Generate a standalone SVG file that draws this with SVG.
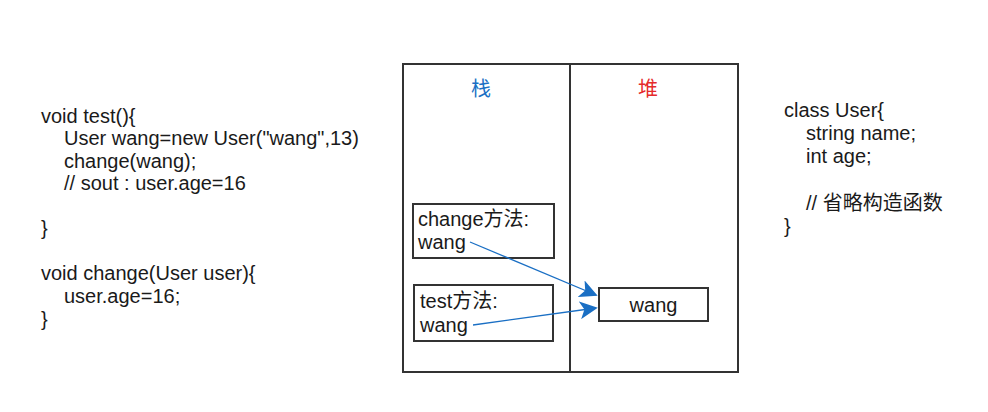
<svg xmlns="http://www.w3.org/2000/svg" width="988" height="412" viewBox="0 0 988 412">
<style>
.t{font-family:"Liberation Sans",Arial,"Noto Sans CJK SC",sans-serif;font-size:20px;fill:#1a1a1a}
.box{fill:#fff;stroke:#333;stroke-width:2}
.conn{stroke:#1a6fc4;stroke-width:1.3;fill:none}
</style>
<defs>
<marker id="ah" viewBox="0 0 10 10" refX="9" refY="5" markerWidth="18" markerHeight="18" markerUnits="userSpaceOnUse" orient="auto">
<path d="M0,0 L10,5 L0,10 L2.5,5 Z" fill="#1a6fc4"/>
</marker>
</defs>
<rect width="988" height="412" fill="#fff"/>
<g id="code-left">
<text class="t" x="41" y="123">void test(){</text>
<text class="t" x="64" y="145">User wang=new User("wang",13)</text>
<text class="t" x="64" y="168">change(wang);</text>
<text class="t" x="64" y="190">// sout : user.age=16</text>
<text class="t" x="41" y="235">}</text>
<text class="t" x="41" y="280">void change(User user){</text>
<text class="t" x="64" y="303">user.age=16;</text>
<text class="t" x="41" y="326">}</text>
</g>
<g id="stack">
<rect class="box" x="403" y="64" width="167" height="308"/>
<text class="t" x="481" y="96" text-anchor="middle" style="fill:#1a6fc4">栈</text>
</g>
<g id="heap">
<rect class="box" x="570" y="64" width="168" height="308"/>
<text class="t" x="648" y="96" text-anchor="middle" style="fill:#e52b2b">堆</text>
</g>
<g id="change-frame">
<rect class="box" x="413" y="204" width="141" height="54"/>
<text class="t" x="418" y="226">change方法:</text>
<text class="t" x="418" y="249">wang</text>
</g>
<g id="test-frame">
<rect class="box" x="414" y="285" width="139" height="56"/>
<text class="t" x="420" y="308">test方法:</text>
<text class="t" x="420" y="332">wang</text>
</g>
<g id="heap-wang">
<rect class="box" x="599" y="288" width="109" height="33"/>
<text class="t" x="653.5" y="312" text-anchor="middle">wang</text>
</g>
<g id="code-right">
<text class="t" x="784" y="117">class User{</text>
<text class="t" x="806" y="140">string name;</text>
<text class="t" x="806" y="163">int age;</text>
<text class="t" x="806" y="210">// 省略构造函数</text>
<text class="t" x="784" y="233">}</text>
</g>
<g id="connectors">
<line class="conn" x1="470" y1="242" x2="596" y2="295" marker-end="url(#ah)"/>
<line class="conn" x1="473" y1="325" x2="596" y2="308" marker-end="url(#ah)"/>
</g>
</svg>
